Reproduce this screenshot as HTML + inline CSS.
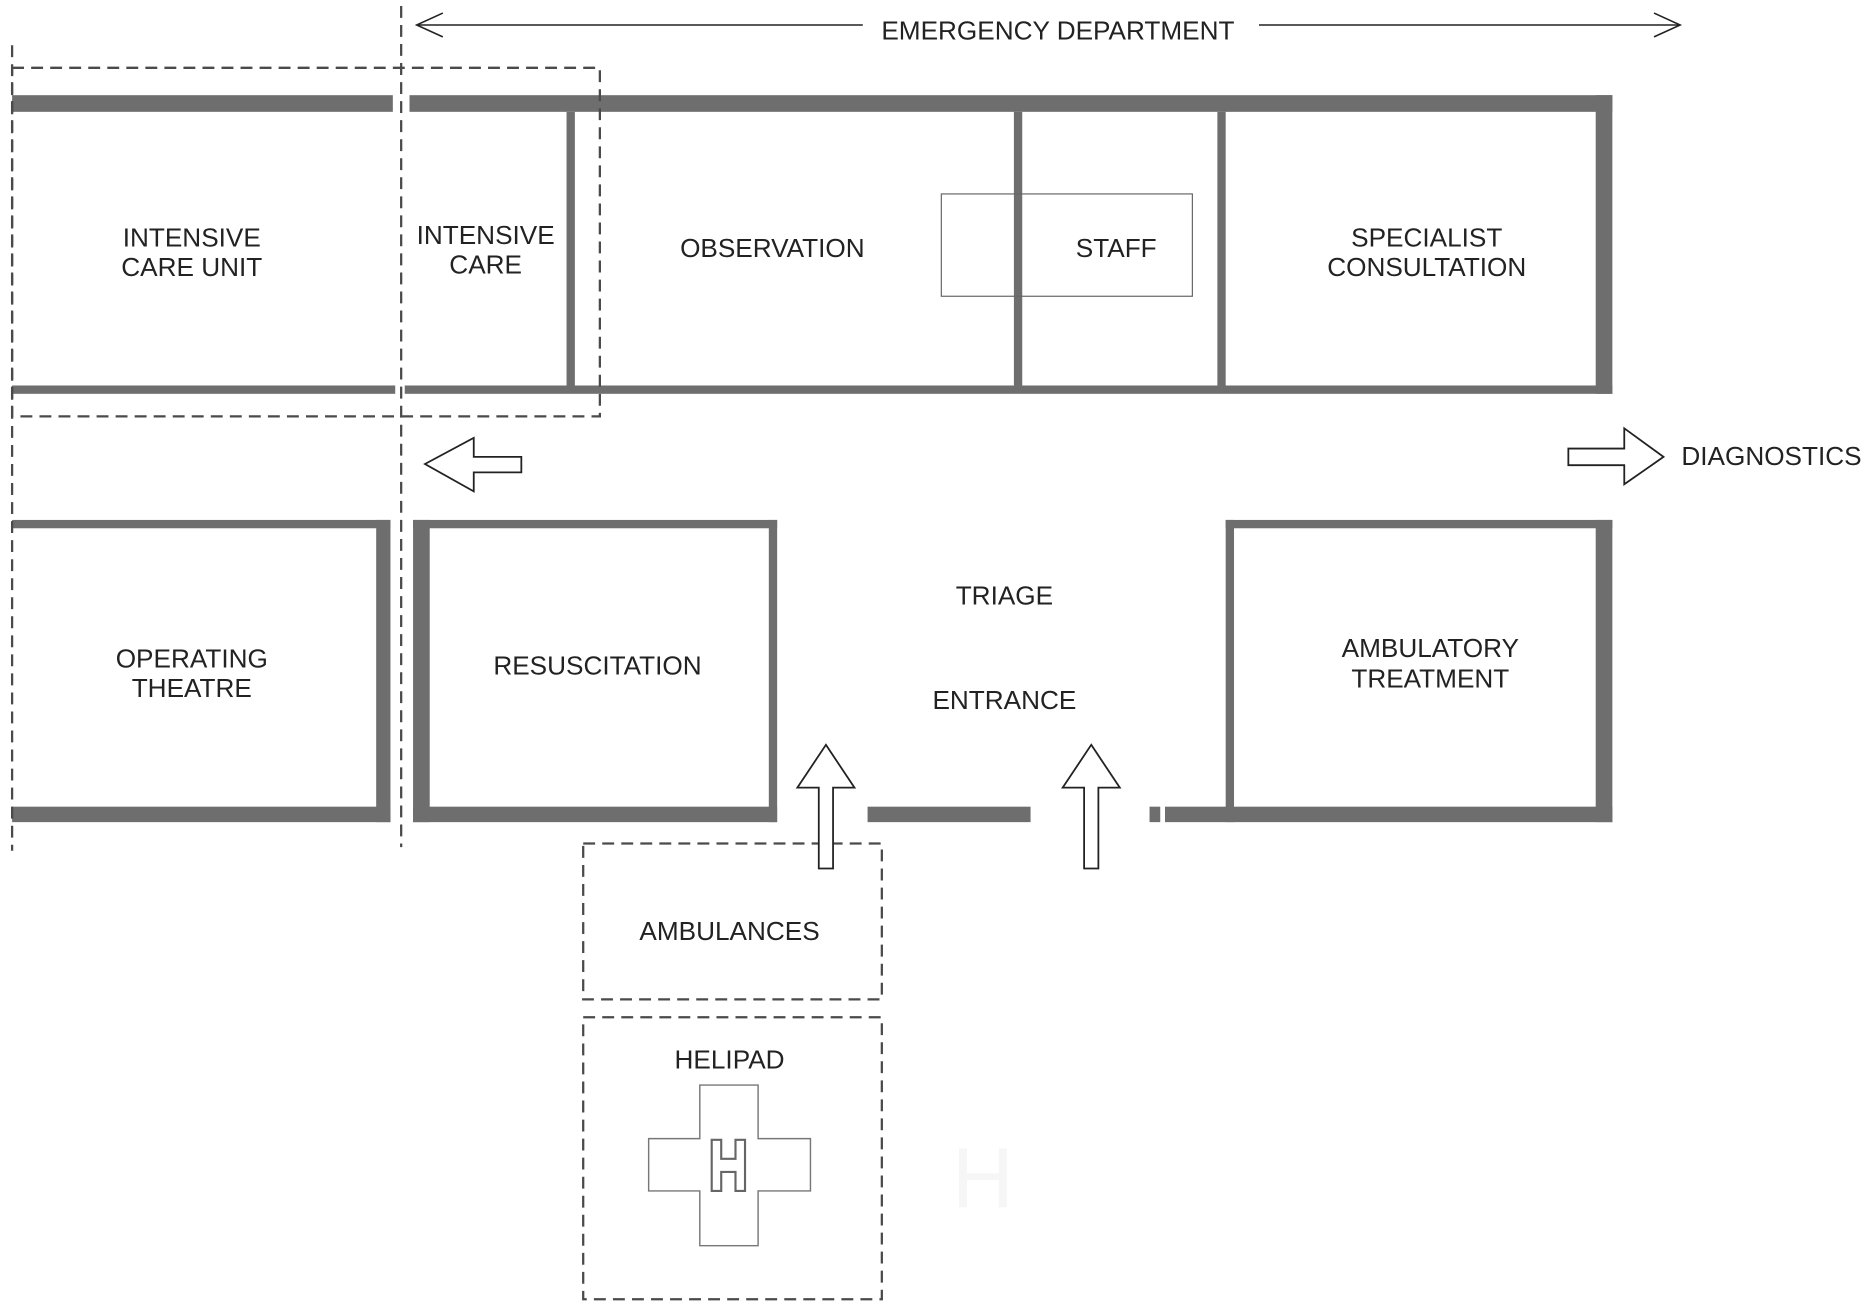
<!DOCTYPE html>
<html><head><meta charset="utf-8"><style>html,body{margin:0;padding:0;background:#fff}svg{display:block}</style></head>
<body>
<svg width="1866" height="1304" viewBox="0 0 1568 1096" xmlns="http://www.w3.org/2000/svg" font-family="Liberation Sans, sans-serif" font-size="22" fill="#222">
<rect width="1568" height="1096" fill="#fff"/>
<g fill="#6e6e6e">
<rect x="10" y="80" width="320" height="14"/>
<rect x="344" y="80" width="1011" height="14"/>
<rect x="1341" y="80" width="14" height="251"/>
<rect x="10" y="324" width="322" height="7"/>
<rect x="340" y="324" width="1015" height="7"/>
<rect x="476" y="94" width="7" height="230"/>
<rect x="852" y="94" width="7" height="230"/>
<rect x="1023" y="94" width="7" height="230"/>
<rect x="10" y="437" width="318" height="7"/>
<rect x="316" y="437" width="12" height="254"/>
<rect x="10" y="678" width="318" height="13"/>
<rect x="347" y="437" width="306" height="7"/>
<rect x="347" y="437" width="14" height="254"/>
<rect x="646" y="437" width="7" height="254"/>
<rect x="347" y="678" width="306" height="13"/>
<rect x="729" y="678" width="137" height="13"/>
<rect x="966" y="678" width="9" height="13"/>
<rect x="979" y="678" width="376" height="13"/>
<rect x="1030" y="437" width="325" height="7"/>
<rect x="1030" y="437" width="7" height="254"/>
<rect x="1341" y="437" width="14" height="254"/>
</g>
<g fill="none" stroke="#4a4a4a" stroke-width="1.9" stroke-dasharray="10,6">
<rect x="10" y="57" width="494" height="293"/>
<line x1="10" y1="38" x2="10" y2="715"/>
<line x1="337" y1="5" x2="337" y2="712"/>
<rect x="490" y="709" width="251" height="131"/>
<rect x="490" y="855" width="251" height="237"/>
</g>
<rect x="791" y="163" width="211" height="86" fill="none" stroke="#666" stroke-width="1"/>
<g fill="#fff" stroke="#222" stroke-width="1.5">
<path d="M694 626 L718 662 L700 662 L700 730 L688 730 L688 662 L670 662 Z"/>
<path d="M917 626 L941 662 L923 662 L923 730 L911 730 L911 662 L893 662 Z"/>
<path d="M357 390 L398 368 L398 384 L438 384 L438 397 L398 397 L398 413 Z"/>
<path d="M1398 384 L1365 360 L1365 377 L1318 377 L1318 391 L1365 391 L1365 407 Z"/>
</g>
<g stroke="#222" stroke-width="1.3" fill="none">
<line x1="350" y1="21" x2="725" y2="21"/>
<path d="M372 11 L350 21 L372 31"/>
<line x1="1058" y1="21" x2="1412" y2="21"/>
<path d="M1390 11 L1412 21 L1390 31"/>
</g>
<g fill="none" stroke="#777" stroke-width="1.2">
<path d="M588 912 H637 V957 H681 V1001 H637 V1047 H588 V1001 H545 V957 H588 Z"/>
</g>
<path d="M598 958 H606 V974 H618 V958 H626 V1001 H618 V985 H606 V1001 H598 Z" fill="none" stroke="#666" stroke-width="1.8"/>
<text x="826" y="1015" font-size="72" fill="#f6f6f6" text-anchor="middle">H</text>
<g text-anchor="middle">
<text x="889" y="33">EMERGENCY DEPARTMENT</text>
<text x="161" y="207">INTENSIVE</text><text x="161" y="232">CARE UNIT</text>
<text x="408" y="205">INTENSIVE</text><text x="408" y="230">CARE</text>
<text x="649" y="216">OBSERVATION</text>
<text x="938" y="216">STAFF</text>
<text x="1199" y="207">SPECIALIST</text><text x="1199" y="232">CONSULTATION</text>
<text x="161" y="561">OPERATING</text><text x="161" y="586">THEATRE</text>
<text x="502" y="567">RESUSCITATION</text>
<text x="844" y="508">TRIAGE</text>
<text x="844" y="596">ENTRANCE</text>
<text x="1202" y="552">AMBULATORY</text><text x="1202" y="578">TREATMENT</text>
<text x="613" y="790">AMBULANCES</text>
<text x="613" y="898">HELIPAD</text>
</g>
<text x="1413" y="391">DIAGNOSTICS</text>
</svg>
</body></html>
